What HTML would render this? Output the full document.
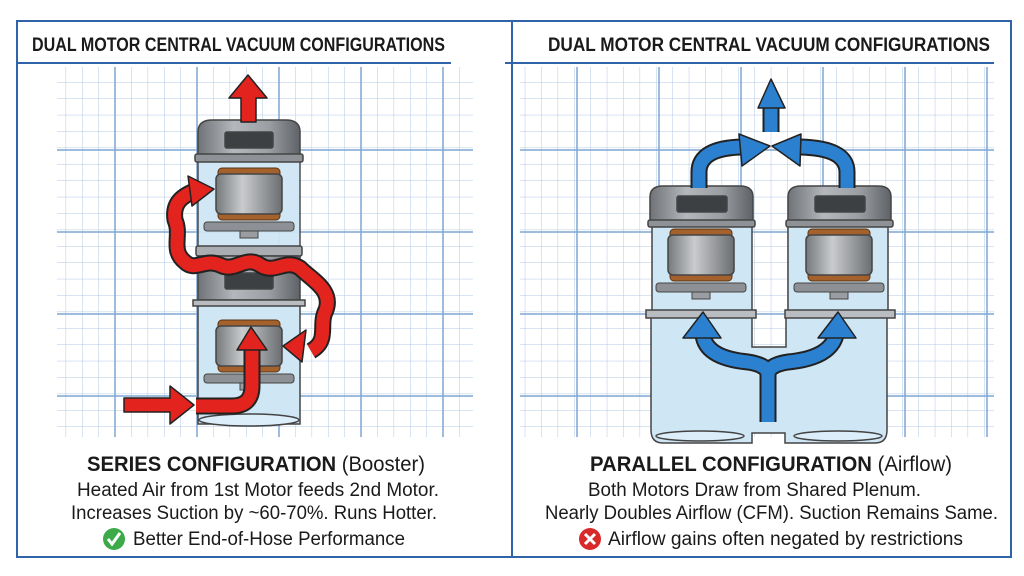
<!DOCTYPE html>
<html><head><meta charset="utf-8"><style>
body{margin:0;background:#fff;}
svg{display:block}
text{font-family:"Liberation Sans",sans-serif;}
</style></head><body>
<svg width="1024" height="576" viewBox="0 0 1024 576" xmlns="http://www.w3.org/2000/svg">
<defs>
<pattern id="minor" width="16.4" height="16.4" patternUnits="userSpaceOnUse" x="0" y="0">
<path d="M0 0V16.4M0 0H16.4" stroke="#b2c9e4" stroke-width="1" fill="none"/>
</pattern>
<linearGradient id="cap" x1="0" x2="1"><stop offset="0" stop-color="#6f7377"/><stop offset=".35" stop-color="#b4b8bc"/><stop offset=".7" stop-color="#9a9ea2"/><stop offset="1" stop-color="#5e6266"/></linearGradient>
<linearGradient id="stat" x1="0" x2="1"><stop offset="0" stop-color="#76797c"/><stop offset=".4" stop-color="#c9cbcd"/><stop offset="1" stop-color="#6b6e71"/></linearGradient>
<g id="motor">
<rect x="0" y="-6" width="62" height="10" fill="#a4612c" stroke="#5a3414" rx="4"/>
<rect x="0" y="36" width="62" height="10" fill="#a4612c" stroke="#5a3414" rx="4"/>
<rect x="-2" y="0" width="66" height="40" rx="5" fill="url(#stat)" stroke="#444" stroke-width="1.5"/>
<rect x="-14" y="48" width="90" height="9" rx="3" fill="#8d9195" stroke="#444"/>
<rect x="22" y="57" width="18" height="7" fill="#9a9ea2" stroke="#444"/>
</g>
</defs>
<rect width="1024" height="576" fill="#fff"/>
<rect x="57" y="67" width="416" height="370" fill="url(#minor)"/>
<rect x="520" y="67" width="474" height="370" fill="url(#minor)"/>
<g stroke="#7fa6d2" stroke-width="1.5">
<path d="M115 67V437M197 67V437M279 67V437M361 67V437M443 67V437M57 150H473M57 232H473M57 314H473M57 396H473"/>
<path d="M577 67V437M659 67V437M741 67V437M823 67V437M905 67V437M987 67V437M520 150H994M520 232H994M520 314H994M520 396H994"/>
</g>
<rect x="17" y="21" width="994" height="536" fill="none" stroke="#2f64a8" stroke-width="2"/>
<line x1="512" y1="21" x2="512" y2="557" stroke="#2f64a8" stroke-width="2"/>
<line x1="17" y1="63" x2="451" y2="63" stroke="#2f64a8" stroke-width="2"/>
<line x1="505" y1="63" x2="994" y2="63" stroke="#2f64a8" stroke-width="2"/>
<text x="32" y="51" font-size="19" font-weight="bold" fill="#1a1a1a" textLength="413" lengthAdjust="spacingAndGlyphs">DUAL MOTOR CENTRAL VACUUM CONFIGURATIONS</text>
<text x="548" y="51" font-size="19" font-weight="bold" fill="#1a1a1a" textLength="442" lengthAdjust="spacingAndGlyphs">DUAL MOTOR CENTRAL VACUUM CONFIGURATIONS</text>

<g stroke="#444" stroke-width="1.5">
<rect x="198" y="160" width="102" height="88" fill="#cfe6f5" opacity=".95"/>
<rect x="198" y="300" width="102" height="124" fill="#cfe6f5"/>
<ellipse cx="249" cy="420" rx="50" ry="6" fill="#dbeefa"/>
<path d="M198 160 V132 Q198 120 212 120 H286 Q300 120 300 132 V160 Z" fill="url(#cap)"/>
<rect x="195" y="154" width="108" height="8" rx="2" fill="#8e9296"/>
<rect x="225" y="132" width="48" height="16" rx="2" fill="#3c4043"/>
<rect x="196" y="246" width="106" height="10" rx="2" fill="#a9adb1"/>
<rect x="198" y="256" width="102" height="44" fill="url(#cap)"/>
<rect x="225" y="273" width="48" height="16" rx="2" fill="#3c4043"/>
<rect x="193" y="300" width="112" height="6" fill="#b9bdc1"/>
</g>
<use href="#motor" x="218" y="174"/>
<use href="#motor" x="218" y="326"/>

<g fill="none" stroke-linecap="butt" stroke-linejoin="round">
<path d="M311 351 C330 340 318 325 326 310 C333 290 312 280 300 268 C285 258 275 275 260 265 C245 255 235 273 220 265 C205 258 195 272 185 262 C170 250 182 235 175 220 C172 200 186 195 196 190" stroke="#222" stroke-width="17"/>
<path d="M311 351 C330 340 318 325 326 310 C333 290 312 280 300 268 C285 258 275 275 260 265 C245 255 235 273 220 265 C205 258 195 272 185 262 C170 250 182 235 175 220 C172 200 186 195 196 190" stroke="#e3241e" stroke-width="13"/>
<path d="M196 406 H232 Q252 406 252 386 V348" stroke="#222" stroke-width="17"/>
<path d="M196 406 H232 Q252 406 252 386 V348" stroke="#e3241e" stroke-width="13"/>
</g>
<g fill="#e3241e" stroke="#222" stroke-width="1.5" stroke-linejoin="round">
<polygon points="241,122 241,98 229,98 248,75 267,98 256,98 256,122"/>
<polygon points="124,398 170,398 170,386 194,405 170,424 170,412 124,412"/>
<polygon points="237,350 251,327 267,350"/>
<polygon points="283,346 306,330 302,362"/>
<polygon points="188,176 214,189 192,206"/>
</g>

<g stroke="#444" stroke-width="1.5">
<path d="M651 312 H752 V347 H786 V312 H887 V430 Q887 443 875 443 H785 V433 H752 V443 H663 Q651 443 651 430 Z" fill="#cfe6f5"/>
<rect x="652" y="225" width="100" height="88" fill="#cfe6f5"/>
<rect x="788" y="225" width="100" height="88" fill="#cfe6f5"/>
<path d="M650 225 V197 Q650 186 663 186 H740 Q753 186 753 197 V225 Z" fill="url(#cap)"/>
<path d="M788 225 V197 Q788 186 801 186 H878 Q891 186 891 197 V225 Z" fill="url(#cap)"/>
<rect x="648" y="220" width="107" height="7" rx="2" fill="#8e9296"/>
<rect x="786" y="220" width="107" height="7" rx="2" fill="#8e9296"/>
<rect x="677" y="196" width="50" height="16" rx="2" fill="#3c4043"/>
<rect x="815" y="196" width="50" height="16" rx="2" fill="#3c4043"/>
<rect x="646" y="310" width="110" height="8" fill="#b9bdc1"/>
<rect x="785" y="310" width="110" height="8" fill="#b9bdc1"/>
<ellipse cx="700" cy="436" rx="44" ry="5" fill="#dbeefa"/>
<ellipse cx="838" cy="436" rx="44" ry="5" fill="#dbeefa"/>
</g>
<use href="#motor" x="670" y="235"/>
<use href="#motor" x="808" y="235"/>
<g fill="none" stroke-linejoin="round">
<path d="M768 422 V375 Q768 365 748 362 Q706 358 703 335 M768 375 Q768 365 788 362 Q830 358 836 335" stroke="#222" stroke-width="17"/>
<path d="M768 422 V375 Q768 365 748 362 Q706 358 703 335 M768 375 Q768 365 788 362 Q830 358 836 335" stroke="#2b80cf" stroke-width="13"/>
<path d="M699 188 V172 Q699 148 742 147 M847 188 V172 Q847 148 800 147 M771 132 V105" stroke="#222" stroke-width="17"/>
<path d="M699 188 V172 Q699 148 742 147 M847 188 V172 Q847 148 800 147 M771 132 V105" stroke="#2b80cf" stroke-width="13"/>
</g>
<g fill="#2b80cf" stroke="#222" stroke-width="1.5" stroke-linejoin="round">
<polygon points="683,338 703,312 721,338"/>
<polygon points="818,338 838,312 856,338"/>
<polygon points="739,134 770,146 742,166"/>
<polygon points="801,134 772,146 800,166"/>
<polygon points="758,108 771,79 785,108"/>
</g>

<g fill="#1a1a1a">
<text x="87" y="471" font-size="21" font-weight="bold" textLength="338" lengthAdjust="spacingAndGlyphs">SERIES CONFIGURATION <tspan font-weight="normal">(Booster)</tspan></text>
<text x="77" y="496" font-size="19" textLength="362" lengthAdjust="spacingAndGlyphs">Heated Air from 1st Motor feeds 2nd Motor.</text>
<text x="71" y="519" font-size="19" textLength="366" lengthAdjust="spacingAndGlyphs">Increases Suction by ~60-70%. Runs Hotter.</text>
<text x="133" y="545" font-size="19" textLength="272" lengthAdjust="spacingAndGlyphs">Better End-of-Hose Performance</text>
<text x="590" y="471" font-size="21" font-weight="bold" textLength="362" lengthAdjust="spacingAndGlyphs">PARALLEL CONFIGURATION <tspan font-weight="normal">(Airflow)</tspan></text>
<text x="588" y="496" font-size="19" textLength="333" lengthAdjust="spacingAndGlyphs">Both Motors Draw from Shared Plenum.</text>
<text x="545" y="519" font-size="19" textLength="453" lengthAdjust="spacingAndGlyphs">Nearly Doubles Airflow (CFM). Suction Remains Same.</text>
<text x="608" y="545" font-size="19" textLength="355" lengthAdjust="spacingAndGlyphs">Airflow gains often negated by restrictions</text>
</g>
<circle cx="114" cy="539" r="11" fill="#3caa48"/>
<path d="M108 539 L112 544 L120 533" stroke="#fff" stroke-width="3" fill="none"/>
<circle cx="590" cy="539" r="11" fill="#d92a2a"/>
<path d="M585 534 L595 544 M595 534 L585 544" stroke="#fff" stroke-width="3"/>
</svg>
</body></html>
